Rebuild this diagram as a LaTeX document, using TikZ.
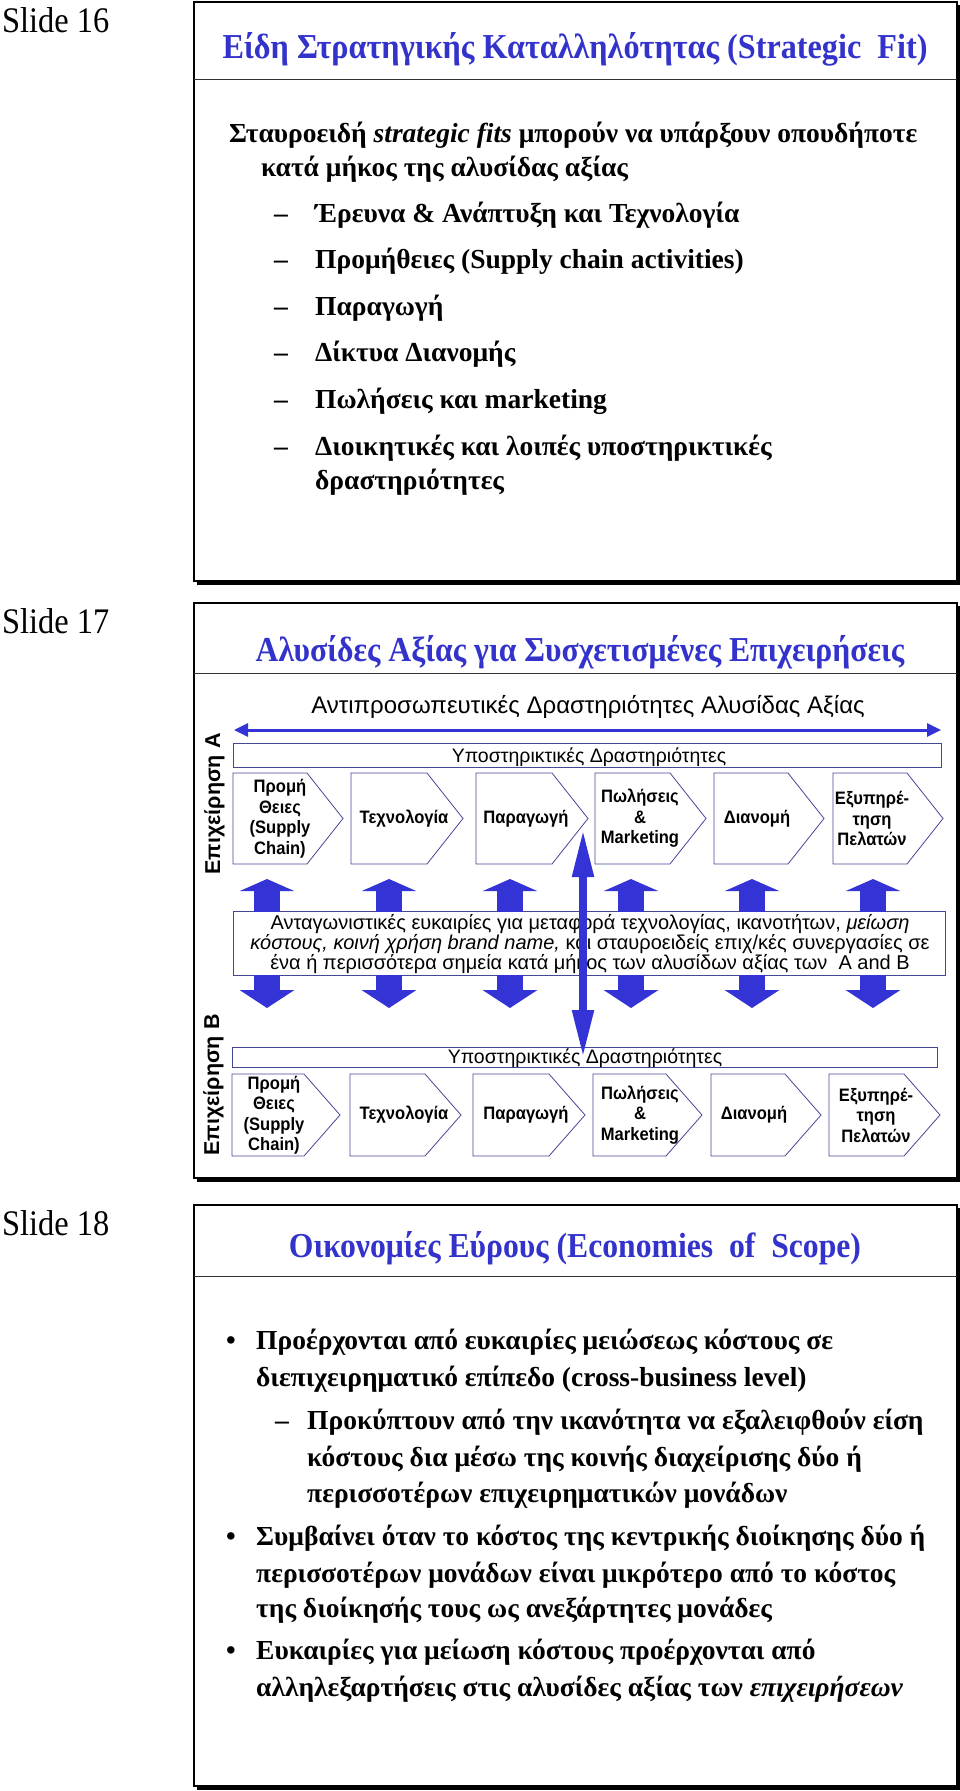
\documentclass[tikz,border=0pt]{standalone}
\usepackage{fontspec}
\setmainfont{Liberation Serif}
\newfontfamily\lblf{Liberation Serif}[FakeStretch=0.9]
\newfontfamily\ttlf{Liberation Serif}[FakeStretch=0.92]
\newfontfamily\ttlnf{Liberation Serif}[FakeStretch=0.905]
\newfontfamily\serf{Liberation Serif}[FakeStretch=1.0]
\newfontfamily\sanf{Liberation Sans}
\newfontfamily\sancf{Liberation Sans}[FakeStretch=0.92]
\usetikzlibrary{arrows.meta}
\definecolor{ttlblue}{RGB}{51,51,204}
\definecolor{arrblue}{RGB}{51,51,214}
\definecolor{boxline}{RGB}{70,70,150}
\newcommand\chev[7]{%
  \draw[chevline] (#2,#4) -- ({#3-36},#4) -- (#3,{(#4+#5)/2}) -- ({#3-36},#5) -- (#2,#5) -- cycle;
  \node[chevtext] (#1) at (#6,{(#4+#5)/2}) {#7};}
\newcommand\slideframe[3]{%
  \draw[line width=1.6pt] (194,#1) rectangle (957,#2);
  \draw[line width=3pt] (197,{#2+2}) -- (959.5,{#2+2}) -- (959.5,{#1+3});
  \draw[line width=0.9pt, black!80] (194,#3) -- (957,#3);}
\begin{document}
\begin{tikzpicture}[x=1pt,y=-1pt,
  lbl/.style={font=\lblf\fontsize{36}{40}\selectfont, inner sep=0pt, anchor=base west},
  ttl/.style={font=\ttlf\bfseries\fontsize{35}{40}\selectfont, text=ttlblue, inner sep=0pt, anchor=base},
  ttln/.style={ttl, font=\ttlnf\bfseries\fontsize{35}{40}\selectfont},
  body/.style={font=\serf\bfseries\fontsize{27.5}{32}\selectfont, inner sep=0pt, anchor=base west},
  chevline/.style={draw=boxline, line width=0.8pt},
  chevtext/.style={font=\sancf\bfseries\fontsize{18}{20.5}\selectfont, align=center, inner sep=0pt},
  supbox/.style={draw=boxline, line width=0.8pt, inner sep=0pt},
  suptext/.style={font=\sanf\fontsize{19.5}{22}\selectfont, inner sep=0pt, anchor=base},
  firm/.style={font=\sanf\bfseries\fontsize{21.5}{24}\selectfont, inner sep=0pt, rotate=90, anchor=base},
  blockup/.style={arrblue, line width=26pt, -{Triangle[length=12pt,width=54pt]}},
  blockdown/.style={arrblue, line width=26pt, -{Triangle[length=18pt,width=54pt]}},
  ]
\useasboundingbox (0,0) rectangle (960,1791);

% ---------------- Slide 16 ----------------
\slideframe{2}{581}{79}
\node[lbl] (s16) at (2,32) {Slide 16};
\node[ttl] (t16) at (575,58) {Είδη Στρατηγικής Καταλληλότητας (Strategic\ \ Fit)};
\node[body] (b1) at (229,142) {Σταυροειδή \textit{strategic fits} μπορούν να υπάρξουν οπουδήποτε};
\node[body] (b2) at (261,176) {κατά μήκος της αλυσίδας αξίας};
\foreach \yy/\tx [count=\i] in {222/{Έρευνα \& Ανάπτυξη και Τεχνολογία},
  268/{Προμήθειες (Supply chain activities)}, 315/{Παραγωγή}, 361/{Δίκτυα Διανομής},
  408/{Πωλήσεις και marketing}, 455/{Διοικητικές και λοιπές υποστηρικτικές}}{
  \node[body] (d\i) at (274,\yy) {–};
  \node[body] (i\i) at (315,\yy) {\tx};
}
\node[body] (i7) at (315,489) {δραστηριότητες};

% ---------------- Slide 17 ----------------
\slideframe{603}{1178}{673}
\node[lbl] (s17) at (2,633) {Slide 17};
\node[ttln] (t17) at (580,661) {Αλυσίδες Αξίας για Συσχετισμένες Επιχειρήσεις};
\node[suptext, font=\sanf\fontsize{24}{26}\selectfont] (rep) at (588,713) {Αντιπροσωπευτικές Δραστηριότητες Αλυσίδας Αξίας};
\coordinate (dl) at (234,730);
\coordinate (dr) at (941,730);
\draw[arrblue, line width=3pt, {Triangle[length=14pt,width=13pt]}-{Triangle[length=14pt,width=13pt]}] (dl) -- (dr);

\node[firm] (epA) at (220,804) {Επιχείρηση A};
\node[firm] (epB) at (219,1085) {Επιχείρηση B};

% support box A
\node[supbox, minimum width=708pt, minimum height=24pt] (supA) at (587,755) {};
\node[suptext] (supAt) at (589,762) {Υποστηρικτικές Δραστηριότητες};
% chevrons A
\chev{a1}{233}{343}{773}{864}{280}{Προμή\\Θειες\\(Supply\\Chain)}
\chev{a2}{351}{463}{773}{864}{404}{Τεχνολογία}
\chev{a3}{476}{588}{773}{864}{526}{Παραγωγή}
\chev{a4}{595}{706}{773}{864}{640}{Πωλήσεις\\\&\\Marketing}
\chev{a5}{714}{824}{773}{864}{757}{Διανομή}
\chev{a6}{833}{943}{773}{864}{872}{Εξυπηρέ-\\τηση\\Πελατών}

% middle box
\node[supbox, minimum width=712pt, minimum height=64pt] (mid) at (589,943) {};
\node[font=\sanf\fontsize{20}{20}\selectfont, align=center, inner sep=0pt] (midt) at (590,944)
 {Ανταγωνιστικές ευκαιρίες για μεταφορά τεχνολογίας, ικανοτήτων, \textit{μείωση}\\
  \textit{κόστους, κοινή χρήση brand name,} και σταυροειδείς επιχ/κές συνεργασίες σε\\
  ένα ή περισσότερα σημεία κατά μήκος των αλυσίδων αξίας των\ \ A and B};

% block arrows
\foreach \xx [count=\i] in {267,389,510,631,752,873}{
  \coordinate (ut\i) at (\xx,879);
  \coordinate (ub\i) at (\xx,911.5);
  \coordinate (dt\i) at (\xx,974.5);
  \coordinate (db\i) at (\xx,1008);
  \draw[blockup] (ub\i) -- (ut\i);
  \draw[blockdown] (dt\i) -- (db\i);
}

% support box B
\node[supbox, minimum width=705pt, minimum height=20pt] (supB) at (584.5,1057) {};
\node[suptext] (supBt) at (585,1063) {Υποστηρικτικές Δραστηριότητες};
% chevrons B
\chev{b1}{232}{340}{1074}{1156}{274}{Προμή\\Θειες\\(Supply\\Chain)}
\chev{b2}{350}{461}{1074}{1156}{404}{Τεχνολογία}
\chev{b3}{473}{585}{1074}{1156}{526}{Παραγωγή}
\chev{b4}{593}{702}{1074}{1156}{640}{Πωλήσεις\\\&\\Marketing}
\chev{b5}{711}{821}{1074}{1156}{754}{Διανομή}
\chev{b6}{829}{940}{1074}{1156}{876}{Εξυπηρέ-\\τηση\\Πελατών}

% long vertical double arrow
\coordinate (vt) at (583,829);
\coordinate (vb) at (583,1058);
\draw[arrblue, line width=8pt, {Triangle[length=48pt,width=20pt]}-{Triangle[length=48pt,width=20pt]}] (vb) -- (vt);

% ---------------- Slide 18 ----------------
\slideframe{1205}{1786}{1276}
\node[lbl] (s18) at (2,1235) {Slide 18};
\node[ttln] (t18) at (575,1257) {Οικονομίες Εύρους (Economies\ \ of\ \ Scope)};
\node[body] (p1) at (226,1349) {•};
\node[body] (l1) at (256,1349) {Προέρχονται από ευκαιρίες μειώσεως κόστους σε};
\node[body] (l2) at (256,1386) {διεπιχειρηματικό επίπεδο (cross-business level)};
\node[body] (q1) at (275,1429) {–};
\node[body] (l3) at (307,1429) {Προκύπτουν από την ικανότητα να εξαλειφθούν είση};
\node[body] (l4) at (307,1466) {κόστους δια μέσω της κοινής διαχείρισης δύο ή};
\node[body] (l5) at (307,1502) {περισσοτέρων επιχειρηματικών μονάδων};
\node[body] (p2) at (226,1545) {•};
\node[body] (l6) at (256,1545) {Συμβαίνει όταν το κόστος της κεντρικής διοίκησης δύο ή};
\node[body] (l7) at (256,1582) {περισσοτέρων μονάδων είναι μικρότερο από το κόστος};
\node[body] (l8) at (256,1617) {της διοίκησής τους ως ανεξάρτητες μονάδες};
\node[body] (p3) at (226,1659) {•};
\node[body] (l9) at (256,1659) {Ευκαιρίες για μείωση κόστους προέρχονται από};
\node[body] (l10) at (256,1696) {αλληλεξαρτήσεις στις αλυσίδες αξίας των \textit{επιχειρήσεων}};
\end{tikzpicture}
\end{document}
